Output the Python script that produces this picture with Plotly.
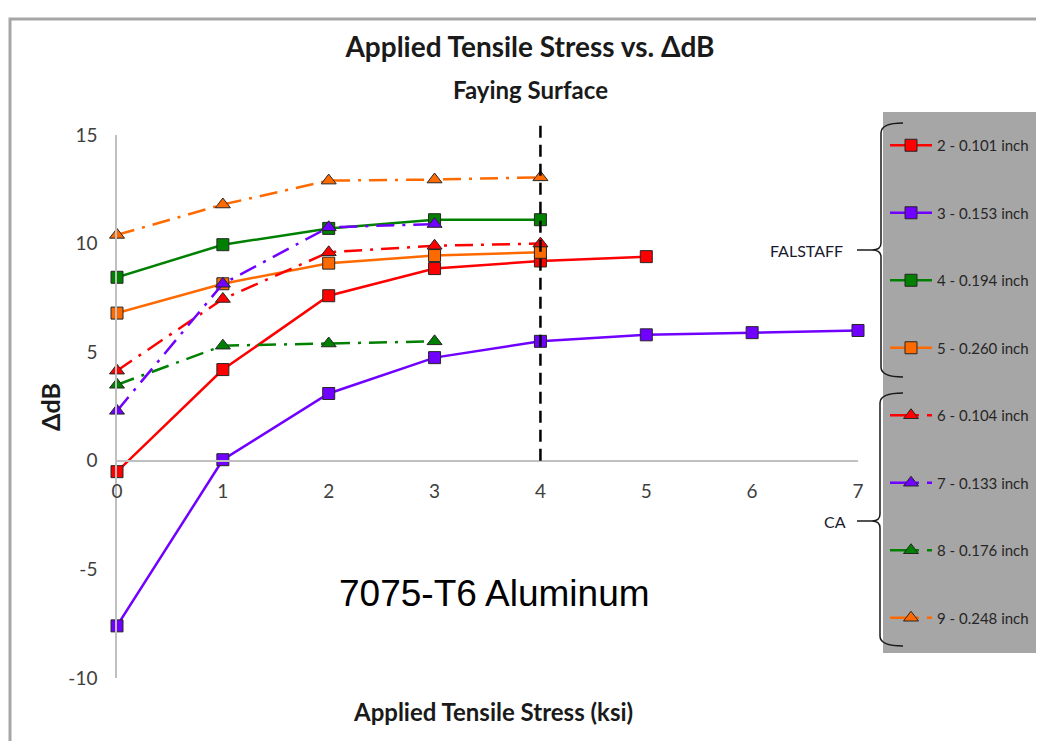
import plotly.graph_objects as go

# ---------------- data ----------------
x_ticks = [0, 1, 2, 3, 4, 5, 6, 7]
y_ticks = [-10, -5, 0, 5, 10, 15]
y_tick_labels = ["-10", "-5", "0", "5", "10", "15"]

names = ["2 - 0.101 inch", "3 - 0.153 inch", "4 - 0.194 inch", "5 - 0.260 inch",
         "6 - 0.104 inch", "7 - 0.133 inch", "8 - 0.176 inch", "9 - 0.248 inch"]

s2_x = [0, 1, 2, 3, 4, 5]
s2_y = [-0.5, 4.2, 7.6, 8.85, 9.2, 9.4]
s3_x = [0, 1, 2, 3, 4, 5, 6, 7]
s3_y = [-7.6, 0.05, 3.1, 4.75, 5.5, 5.8, 5.9, 6.0]
s4_x = [0, 1, 2, 3, 4]
s4_y = [8.45, 9.95, 10.7, 11.1, 11.1]
s5_x = [0, 1, 2, 3, 4]
s5_y = [6.8, 8.15, 9.1, 9.45, 9.6]
s6_x = [0, 1, 2, 3, 4]
s6_y = [4.15, 7.45, 9.6, 9.9, 10.0]
s7_x = [0, 1, 2, 3]
s7_y = [2.3, 8.15, 10.75, 10.9]
s8_x = [0, 1, 2, 3]
s8_y = [3.5, 5.3, 5.4, 5.5]
s9_x = [0, 1, 2, 3, 4]
s9_y = [10.4, 11.8, 12.9, 12.95, 13.05]

threshold_x = 4

# ---------------- style ----------------
RED, PURPLE, GREEN, ORANGE = "#ff0000", "#7000ff", "#008000", "#ff6a00"
CAL = "Lato, Open Sans, sans-serif"
X_MIN, X_MAX, Y_MIN, Y_MAX = 0, 7, -10, 15
OFF = 8                       # page body margin
W, H = 1044 - OFF, 741 - OFF
L, R, T, B = 117 - OFF, 186, 135 - OFF, 63
PW, PH = W - L - R, H - T - B


def px(x):
    """screen x (px) -> paper x"""
    return (x - OFF - L) / PW


def py(y):
    """screen y (px) -> paper y"""
    return (H - B - (y - OFF)) / PH


series = [
    (s2_x, s2_y, RED, "square", "solid"),
    (s3_x, s3_y, PURPLE, "square", "solid"),
    (s4_x, s4_y, GREEN, "square", "solid"),
    (s5_x, s5_y, ORANGE, "square", "solid"),
    (s6_x, s6_y, RED, "triangle-up", "18px,8px,3px,8px"),
    (s7_x, s7_y, PURPLE, "triangle-up", "18px,8px,3px,8px"),
    (s8_x, s8_y, GREEN, "triangle-up", "18px,8px,3px,8px"),
    (s9_x, s9_y, ORANGE, "triangle-up", "18px,8px,3px,8px"),
]

fig = go.Figure()
for i, (xs, ys, col, sym, dash) in enumerate(series):
    fig.add_trace(go.Scatter(
        x=xs, y=ys, name=names[i], mode="lines+markers",
        line=dict(color=col, width=2.5, dash=dash),
        marker=dict(symbol=sym, size=12 if sym == "square" else 13, color=col,
                    line=dict(color="#262626", width=1)),
        legendgroup=f"g{i}", cliponaxis=False,
    ))

shapes = []
# outer frame
shapes.append(dict(type="rect", xref="paper", yref="paper",
                   x0=px(10), x1=px(1070), y0=py(770), y1=py(19),
                   line=dict(color="#a6a6a6", width=3), layer="below"))
# legend grey panel
shapes.append(dict(type="rect", xref="paper", yref="paper",
                   x0=px(883), x1=px(1070), y0=py(653), y1=py(112),
                   fillcolor="#a6a6a6", line=dict(width=0), layer="below"))
# dashed threshold line
shapes.append(dict(type="line", xref="x", yref="paper",
                   x0=threshold_x, x1=threshold_x,
                   y0=(0 - Y_MIN) / (Y_MAX - Y_MIN), y1=py(122),
                   line=dict(color="black", width=2.5, dash="12px,7px")))


def brace(top, bot, tip, xv=881, xh=903, xt=872, xl=857):
    p = [
        f"M {px(xh)},{py(top)}",
        f"Q {px(xv)},{py(top)} {px(xv)},{py(top + 10)}",
        f"L {px(xv)},{py(tip - 7)}",
        f"Q {px(xv)},{py(tip)} {px(xt)},{py(tip)}",
        f"Q {px(xv)},{py(tip)} {px(xv)},{py(tip + 7)}",
        f"L {px(xv)},{py(bot - 10)}",
        f"Q {px(xv)},{py(bot)} {px(xh)},{py(bot)}",
    ]
    return [
        dict(type="path", xref="paper", yref="paper", path=" ".join(p),
             line=dict(color="#1a1a1a", width=1.5)),
        dict(type="line", xref="paper", yref="paper", x0=px(xl), x1=px(xt),
             y0=py(tip), y1=py(tip), line=dict(color="#1a1a1a", width=1.5)),
    ]


shapes += brace(123, 377, 250)
shapes += brace(393, 646, 521, xv=880)


def ann(text, x, y, size, family=CAL, color="#1a1a1a", xanchor="center", **kw):
    return dict(text=text, xref="paper", yref="paper", x=px(x), y=py(y),
                xanchor=xanchor, yanchor="middle", showarrow=False,
                font=dict(family=family, size=size, color=color), **kw)


annotations = [
    ann("<b>Faying Surface</b>", 530, 89, 24),
    ann("7075-T6 Aluminum", 494, 593, 37, family="Liberation Sans, Arial, sans-serif",
        color="black"),
    ann("<b>Applied Tensile Stress (ksi)</b>", 493, 711, 24),
    ann("<b>ΔdB</b>", 50, 407, 25, textangle=-90),
    ann("FALSTAFF", 845, 250, 16, color="#1a1a2e", xanchor="right"),
    ann("CA", 848, 521, 16, color="#1a1a2e", xanchor="right"),
]

fig.update_layout(
    width=W, height=H,
    margin=dict(l=L, r=R, t=T, b=B, autoexpand=False),
    paper_bgcolor="white", plot_bgcolor="white",
    title=dict(text="<b>Applied Tensile Stress vs. ΔdB</b>", xref="container",
               x=(530 - OFF) / W, xanchor="center", yref="container",
               y=1 - (47 - OFF) / H, yanchor="middle",
               font=dict(family=CAL, size=28, color="#1a1a1a")),
    xaxis=dict(range=[X_MIN, X_MAX], anchor="free", position=(0 - Y_MIN) / (Y_MAX - Y_MIN),
               showline=True, linecolor="#c0c0c0", linewidth=1.5, showgrid=False,
               zeroline=False, tickvals=x_ticks, ticks="", ticklabelstandoff=14,
               tickfont=dict(family=CAL, size=19, color="#404040")),
    yaxis=dict(range=[Y_MIN, Y_MAX], showline=True, linecolor="#c0c0c0", linewidth=1.5,
               showgrid=False, zeroline=False, tickvals=y_ticks, ticktext=y_tick_labels,
               ticks="", ticklabelstandoff=14,
               tickfont=dict(family=CAL, size=19, color="#404040")),
    legend=dict(x=px(885), xanchor="left", y=py(129), yanchor="top",
                bgcolor="rgba(0,0,0,0)", tracegroupgap=45, itemwidth=42,
                maxheight=700,
                font=dict(family=CAL, size=15, color="#262626")),
    shapes=shapes, annotations=annotations,
)

fig.write_html("out.html")
